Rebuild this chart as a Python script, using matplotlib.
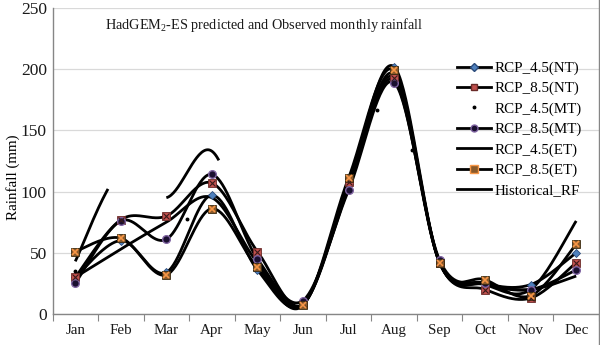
import numpy as np
import matplotlib
matplotlib.use("Agg")
import matplotlib.pyplot as plt
from matplotlib.lines import Line2D

plt.rcParams['font.family'] = ['Liberation Serif', 'DejaVu Serif']
plt.rcParams['mathtext.fontset'] = 'custom'
plt.rcParams['mathtext.rm'] = 'Liberation Serif'
plt.rcParams['mathtext.it'] = 'Liberation Serif:italic'

months = ['Jan', 'Feb', 'Mar', 'Apr', 'May', 'Jun', 'Jul', 'Aug', 'Sep', 'Oct', 'Nov', 'Dec']

rcp45_nt = [30, 60, 34, 97, 36, 8, 106, 202, 42, 25, 24, 50]
rcp85_nt = [30, 77, 80, 107, 51, 8, 108, 193, 42, 20, 13, 42]
rcp85_mt = [25, 76, 61, 114, 45, 11, 101, 189, 44, 25, 20, 36]
rcp45_et = [30, 53, 75, 95, 42, 8, 104, 191, 42, 25, 20, 31]
rcp85_et = [51, 62, 32, 86, 38, 7, 111, 199, 42, 28, 15, 57]
historical = [43, 116, 95, 133, 42, 8, 103, 196, 42, 24, 20, 76]
hist_gaps = [(1.72, 3.0), (4.17, 5.0)]

# RCP_4.5(MT): drawn only as small dots
rcp45_mt_x = [1, 3.45, 7.63, 8.4]
rcp45_mt = [35, 78, 167, 134]


def smooth(xs, ys, n=40):
    pts = np.column_stack([xs, ys]).astype(float)
    out = []
    for i in range(len(pts) - 1):
        p0 = pts[i - 1] if i > 0 else pts[i]
        p1 = pts[i]
        p2 = pts[i + 1]
        p3 = pts[i + 2] if i + 2 < len(pts) else pts[i + 1]
        c1 = p1 + (p2 - p0) / 6.0
        c2 = p2 - (p3 - p1) / 6.0
        t = np.linspace(0, 1, n)[:, None]
        seg = ((1 - t) ** 3) * p1 + 3 * ((1 - t) ** 2) * t * c1 + 3 * (1 - t) * t ** 2 * c2 + t ** 3 * p2
        out.append(seg if i == 0 else seg[1:])
    c = np.vstack(out)
    return c[:, 0], c[:, 1]


fig = plt.figure(figsize=(6.0, 3.45), dpi=100)
ax = fig.add_axes([0.0875, 0.0899, 0.9108, 0.887])

x = np.arange(1, 13)
lw = 2.0
fs = 10.8

def draw_line(vals):
    sx, sy = smooth(x, vals)
    ax.plot(sx, sy, color='black', lw=lw, solid_capstyle='butt', zorder=3)

for vals in [rcp45_nt, rcp85_nt, rcp85_mt, rcp45_et, rcp85_et]:
    draw_line(vals)

hx, hy = smooth(x, historical)
hy = hy.copy()
for a, b in hist_gaps:
    hy[(hx > a) & (hx < b)] = np.nan
ax.plot(hx, hy, color='black', lw=lw, solid_capstyle='butt', zorder=3)

# markers
ax.plot(x, rcp45_nt, ls='none', marker='D', ms=4, mfc='#4F81BD', mec='#2a4a7a', mew=0.6, zorder=5)
ax.plot(x, rcp85_nt, ls='none', marker='s', ms=5.5, mfc='#C0504D', mec='#6a2a28', mew=0.6, zorder=5)
ax.plot(x, rcp85_nt, ls='none', marker='x', ms=4, mec='#3a1a1a', mew=0.8, zorder=6)
ax.plot(x, rcp85_mt, ls='none', marker='o', ms=5.5, mfc='#1a1030', mec='#8064A2', mew=1.0, zorder=5)
ax.plot(x, rcp85_et, ls='none', marker='s', ms=6, mfc='#8a5a2a', mec='#3a2a10', mew=0.6, zorder=5)
ax.plot(x, rcp85_et, ls='none', marker='x', ms=5, mec='#F79646', mew=1.2, zorder=6)
ax.plot(rcp45_mt_x, rcp45_mt, ls='none', marker='o', ms=1.8, mfc='black', mec='black', zorder=6)

ax.set_xlim(0.5, 12.5)
ax.set_ylim(0, 250)
ax.set_yticks([0, 50, 100, 150, 200, 250])
ax.yaxis.grid(True, color='#d9d9d9', lw=0.9)
ax.set_axisbelow(True)

ax.set_xticks(np.arange(0.5, 13, 1))
ax.set_xticklabels([])
ax.set_xticks(x, minor=True)
ax.set_xticklabels(months, minor=True)
ax.tick_params(axis='x', which='major', length=5, color='#868686', direction='out')
ax.tick_params(axis='x', which='minor', length=0, pad=7, labelsize=fs, labelcolor='#1a1a1a')
ax.tick_params(axis='y', length=0, pad=4, labelsize=12.5, labelcolor='#1a1a1a')

for s in ['top', 'right']:
    ax.spines[s].set_visible(False)
for s in ['left', 'bottom']:
    ax.spines[s].set_color('#868686')
    ax.spines[s].set_linewidth(1.0)

ax.set_ylabel('Rainfall (mm)', fontsize=fs)
ax.yaxis.set_label_coords(-0.06, 0.448)

fig.text(0.175, 0.927, r'HadGEM$_{\mathrm{2}}$-ES predicted and Observed monthly rainfall',
         fontsize=10.3, ha='left', va='center', color='#1a1a1a')

handles = [
    Line2D([], [], color='black', lw=lw, marker='D', ms=4, mfc='#4F81BD', mec='#2a4a7a'),
    Line2D([], [], color='black', lw=lw, marker='s', ms=5, mfc='#C0504D', mec='#6a2a28'),
    Line2D([], [], color='none', lw=0, marker='o', ms=1.8, mfc='black', mec='black'),
    Line2D([], [], color='black', lw=lw, marker='o', ms=5, mfc='#1a1030', mec='#8064A2'),
    Line2D([], [], color='black', lw=lw),
    Line2D([], [], color='black', lw=lw, marker='s', ms=5.5, mfc='#8a5a2a', mec='#F79646'),
    Line2D([], [], color='black', lw=lw),
]
labels = ['RCP_4.5(NT)', 'RCP_8.5(NT)', 'RCP_4.5(MT)', 'RCP_8.5(MT)',
          'RCP_4.5(ET)', 'RCP_8.5(ET)', 'Historical_RF']
leg = ax.legend(handles, labels, loc='upper left', bbox_to_anchor=(0.729, 0.845),
                frameon=False, fontsize=fs, handlelength=2.3, handletextpad=0.2,
                labelspacing=0.45, borderaxespad=0)

fig.add_artist(Line2D([0.9975, 0.9975], [0, 1], transform=fig.transFigure, color='#868686', lw=1.0))

fig.savefig('out.png', dpi=100)
